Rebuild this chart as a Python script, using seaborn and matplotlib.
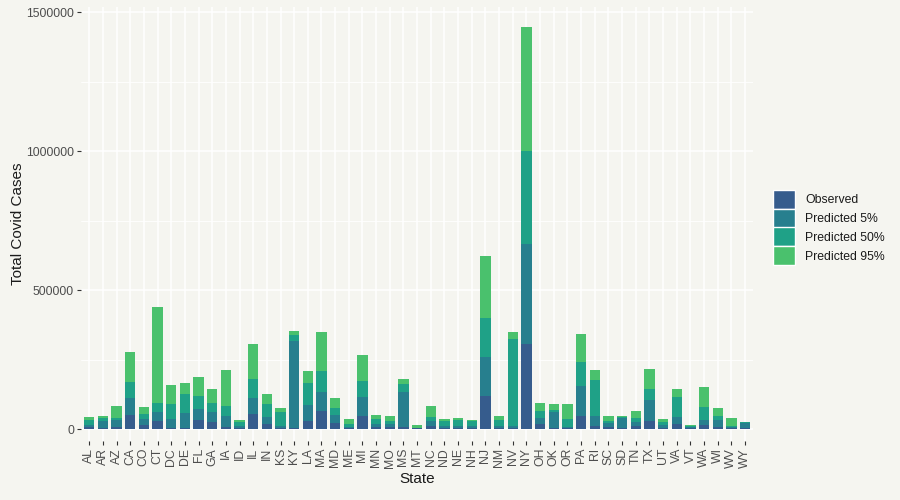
import matplotlib

matplotlib.use("Agg")

import matplotlib.pyplot as plt
from matplotlib.patches import Patch
import numpy as np
import pandas as pd
import seaborn as sns

STATES = [
    "AL", "AR", "AZ", "CA", "CO", "CT", "DC", "DE", "FL", "GA", "IA", "ID", "IL",
    "IN", "KS", "KY", "LA", "MA", "MD", "ME", "MI", "MN", "MO", "MS", "MT", "NC",
    "ND", "NE", "NH", "NJ", "NM", "NV", "NY", "OH", "OK", "OR", "PA", "RI", "SC",
    "SD", "TN", "TX", "UT", "VA", "VT", "WA", "WI", "WV", "WY",
]

# segment heights (thousands of cases), stacked bottom to top
observed = [
    7, 4, 7, 50, 14, 29, 4, 4, 32, 25, 7, 4, 54,
    18, 4, 4, 29, 65, 22, 4, 47, 7, 7, 7, 2, 11,
    5, 4, 4, 118, 4, 4, 305, 18, 4, 4, 47, 11, 7,
    4, 11, 29, 4, 18, 4, 14, 7, 4, 4,
]
pred_5 = [
    7, 25, 25, 61, 22, 32, 32, 53, 40, 36, 40, 7, 57,
    25, 7, 312, 57, 68, 28, 3, 68, 11, 11, 126, 2, 18,
    6, 7, 7, 140, 7, 7, 360, 21, 57, 3, 107, 36, 15,
    36, 14, 75, 10, 25, 3, 18, 25, 3, 17,
]
pred_50 = [
    18, 10, 7, 58, 18, 32, 54, 69, 46, 32, 36, 14, 68,
    47, 50, 21, 79, 75, 25, 11, 57, 18, 11, 28, 1, 14,
    18, 21, 18, 140, 21, 312, 335, 26, 7, 29, 86, 129, 7,
    3, 14, 40, 11, 72, 4, 47, 15, 4, 3,
]
pred_95 = [
    12, 8, 44, 107, 25, 345, 68, 39, 69, 51, 129, 7, 126,
    36, 14, 15, 43, 140, 36, 18, 94, 14, 18, 18, 9, 40,
    7, 7, 3, 225, 15, 25, 446, 28, 22, 54, 101, 36, 18,
    4, 26, 71, 11, 29, 3, 72, 28, 28, 2,
]

SERIES = ["Observed", "Predicted 5%", "Predicted 50%", "Predicted 95%"]
COLORS = ["#365C8D", "#277F8E", "#1FA187", "#4AC16D"]

BG = "#F5F5F0"
TEXT = "#4D4D4D"


def main() -> None:
    sns.set_theme(style="white")
    plt.rcParams["font.family"] = ["Liberation Sans", "DejaVu Sans"]

    seg = pd.DataFrame(
        {name: np.array(vals) * 1000 for name, vals in zip(SERIES, [observed, pred_5, pred_50, pred_95])},
        index=STATES,
    )
    cum = seg.cumsum(axis=1)

    fig = plt.figure(figsize=(9, 5), dpi=100, facecolor=BG)
    ax = fig.add_axes([0.09, 0.118, 0.747, 0.868])
    ax.set_facecolor(BG)

    # draw cumulative bars from top series down so they overlay as a stack
    for name, color in reversed(list(zip(SERIES, COLORS))):
        sns.barplot(
            x=STATES,
            y=cum[name].values,
            order=STATES,
            color=color,
            saturation=1,
            width=0.75,
            linewidth=0,
            ax=ax,
            zorder=3,
        )

    ax.set_xlim(-0.6, len(STATES) - 0.4)
    ax.set_ylim(-43000, 1518000)
    ax.set_yticks([0, 500000, 1000000, 1500000])
    ax.set_yticklabels(["0", "500000", "1000000", "1500000"])
    ax.set_yticks([250000, 750000, 1250000], minor=True)

    ax.grid(True, which="major", color="white", linewidth=1.1, zorder=0)
    ax.grid(True, which="minor", axis="y", color="white", linewidth=0.6, zorder=0)
    ax.set_axisbelow(True)
    for spine in ax.spines.values():
        spine.set_visible(False)

    ax.tick_params(axis="both", which="major", length=3, width=0.8, color="#333333",
                   labelcolor=TEXT, labelsize=8.8, pad=2, bottom=True, left=True)
    ax.tick_params(axis="y", which="minor", length=0)
    ax.tick_params(axis="x", labelrotation=90)

    ax.set_xlabel("State", fontsize=11, color="#1A1A1A", labelpad=3)
    ax.set_ylabel("Total Covid Cases", fontsize=11, color="#1A1A1A", labelpad=1)

    handles = [Patch(facecolor=c, edgecolor="white", linewidth=1.0) for c in COLORS]
    fig.legend(
        handles,
        SERIES,
        loc="center left",
        bbox_to_anchor=(0.859, 0.545),
        frameon=False,
        fontsize=8.8,
        handlelength=1.8,
        handleheight=2.0,
        handletextpad=0.8,
        labelspacing=0.0,
        borderaxespad=0,
        borderpad=0,
        labelcolor="#1A1A1A",
    )

    fig.savefig("out.png", dpi=100, facecolor=BG)
    plt.close(fig)


if __name__ == "__main__":
    main()
